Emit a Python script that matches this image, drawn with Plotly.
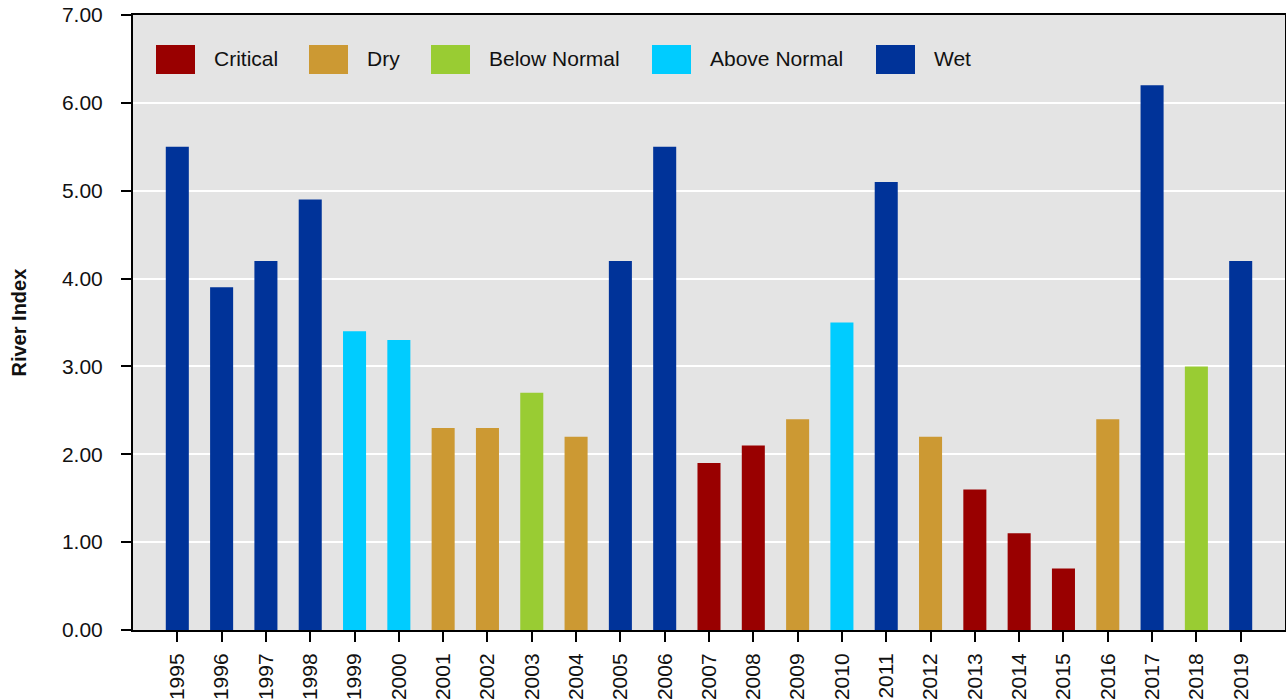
import plotly.graph_objects as go

years = [str(y) for y in range(1995, 2020)]
river_index = [5.5, 3.9, 4.2, 4.9, 3.4, 3.3, 2.3, 2.3, 2.7, 2.2,
               4.2, 5.5, 1.9, 2.1, 2.4, 3.5, 5.1, 2.2, 1.6, 1.1,
               0.7, 2.4, 6.2, 3.0, 4.2]
year_type = ["Wet", "Wet", "Wet", "Wet", "Above Normal", "Above Normal", "Dry", "Dry",
             "Below Normal", "Dry", "Wet", "Wet", "Critical", "Critical", "Dry",
             "Above Normal", "Wet", "Dry", "Critical", "Critical", "Critical", "Dry",
             "Wet", "Below Normal", "Wet"]
type_names = ["Critical", "Dry", "Below Normal", "Above Normal", "Wet"]
type_colors = ["#990000", "#CC9933", "#99CC33", "#00CCFF", "#003399"]
y_ticks = [0, 1, 2, 3, 4, 5, 6, 7]

color_map = dict(zip(type_names, type_colors))

W, H = 1286, 699
ML, MR, MT, MB = 133, 1, 15, 69
plot_w = W - ML - MR
plot_h = H - MT - MB

FONT = "Liberation Sans, Arial, sans-serif"

fig = go.Figure()
fig.add_trace(go.Bar(
    x=years, y=river_index,
    marker=dict(color=[color_map[t] for t in year_type], line=dict(width=0)),
    width=0.52, showlegend=False,
    hovertext=year_type,
))

# manual legend (large square swatches as in the reference)
legend_box_left_px = [156, 309, 431, 652, 876]
box_w, box_top, box_bot = 39, 45, 74
shapes = []
annotations = []
for name, col, bx in zip(type_names, type_colors, legend_box_left_px):
    shapes.append(dict(type="rect", xref="paper", yref="paper",
                       x0=(bx - ML) / plot_w, x1=(bx + box_w - ML) / plot_w,
                       y0=(H - MB - box_bot) / plot_h, y1=(H - MB - box_top) / plot_h,
                       fillcolor=col, line=dict(width=0), layer="above"))
    annotations.append(dict(xref="paper", yref="paper",
                            x=(bx + box_w + 17 - ML) / plot_w,
                            y=(H - MB - (box_top + box_bot) / 2 + 1) / plot_h,
                            text=name, showarrow=False, xanchor="left", yanchor="middle",
                            font=dict(family=FONT, size=21, color="#111111")))

annotations.append(dict(xref="paper", yref="paper",
                        x=(18 - ML) / plot_w, y=0.5, text="<b>River Index</b>",
                        textangle=-90, showarrow=False, xanchor="center", yanchor="middle",
                        font=dict(family=FONT, size=20, color="#111111")))

fig.update_layout(
    width=W, height=H,
    margin=dict(l=ML, r=MR, t=MT, b=MB, pad=0),
    paper_bgcolor="white", plot_bgcolor="#E4E4E4",
    font=dict(family=FONT, size=21, color="#111111"),
    bargap=0.48,
    shapes=shapes, annotations=annotations,
    xaxis=dict(type="category", categoryorder="array", categoryarray=years,
               range=[-1, 25], tickangle=-90, ticks="outside", ticklen=10,
               tickwidth=2, tickcolor="black", showline=True, linecolor="black",
               linewidth=2, mirror=True, showgrid=False, ticklabelstandoff=3,
               tickfont=dict(family=FONT, size=21, color="#111111"), automargin=False),
    yaxis=dict(range=[0, 7], tickvals=y_ticks, tickformat=".2f", ticks="outside",
               ticklen=10, tickwidth=2, tickcolor="black", showline=True,
               linecolor="black", linewidth=2, mirror=True, showgrid=True,
               gridcolor="white", gridwidth=2, zeroline=False, ticklabelstandoff=14,
               tickfont=dict(family=FONT, size=21, color="#111111"), automargin=False),
)

fig.write_html("out.html")
